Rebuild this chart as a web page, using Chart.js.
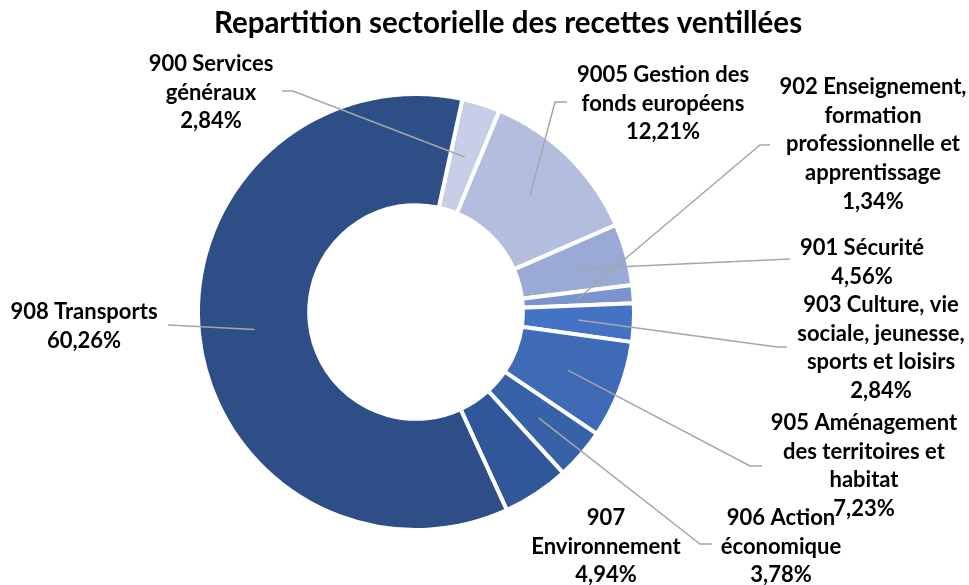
<!DOCTYPE html>
<html>
<head>
<meta charset="utf-8">
<script src="https://cdn.jsdelivr.net/npm/chart.js@4.4.0/dist/chart.umd.min.js"></script>
<style>
  html, body { margin: 0; padding: 0; background: #fff; }
</style>
</head>
<body>
<canvas id="recettesChart" width="969" height="585"></canvas>
<script>
// Titre et données du graphique
const titre = 'Repartition sectorielle des recettes ventillées';

const secteurs = [
  ['900 Services', 'généraux'],
  ['9005 Gestion des', 'fonds européens'],
  ['901 Sécurité'],
  ['902 Enseignement,', 'formation', 'professionnelle et', 'apprentissage'],
  ['903 Culture, vie', 'sociale, jeunesse,', 'sports et loisirs'],
  ['905 Aménagement', 'des territoires et', 'habitat'],
  ['906 Action', 'économique'],
  ['907', 'Environnement'],
  ['908 Transports']
];

const parts = [2.84, 12.21, 4.56, 1.34, 2.84, 7.23, 3.78, 4.94, 60.26];

const couleurs = ['#C9CEE8', '#B3BEDF', '#99AAD7', '#7B94D0', '#4472C4',
                  '#3E6AB6', '#3762A8', '#30579A', '#2E4E88'];

// Position des étiquettes (centre du texte) et fin des traits de rappel
const placement = [
  { x: 211, y: 64,  lx: 293, ly: 91,  dx: -11 },
  { x: 663, y: 75,  lx: 555, ly: 102, dx: 12 },
  { x: 862, y: 248, lx: 790, ly: 259, dx: 0 },
  { x: 873, y: 87,  lx: 760, ly: 145, dx: 10 },
  { x: 881, y: 305, lx: 777, ly: 347, dx: 10 },
  { x: 864, y: 423, lx: 750, ly: 466, dx: 12 },
  { x: 781, y: 518, lx: 700, ly: 544, dx: 12 },
  { x: 606, y: 518 },
  { x: 84,  y: 312, lx: 168, ly: 325, dx: 0 }
];

const pourcent = v => v.toFixed(2).replace('.', ',') + '%';

// Plugin maison : titre, traits de rappel et étiquettes
const etiquettes = {
  id: 'etiquettes',
  afterDatasetsDraw(chart) {
    const ctx = chart.ctx;
    const arcs = chart.getDatasetMeta(0).data;
    ctx.save();
    ctx.fillStyle = '#000';
    ctx.textAlign = 'center';
    ctx.textBaseline = 'middle';
    ctx.font = 'bold 29.5px Lato';
    ctx.fillText(titre, 508, 23);

    arcs.forEach((arc, i) => {
      const p = placement[i];
      if (p.lx !== undefined) {
        const m = arc.tooltipPosition();
        ctx.strokeStyle = '#A6A6A6';
        ctx.lineWidth = 1.5;
        ctx.beginPath();
        ctx.moveTo(m.x, m.y);
        ctx.lineTo(p.lx, p.ly);
        ctx.lineTo(p.lx + p.dx, p.ly);
        ctx.stroke();
      }
    });

    ctx.font = 'bold 22px Lato';
    arcs.forEach((arc, i) => {
      const p = placement[i];
      const lignes = secteurs[i].concat(pourcent(parts[i]));
      lignes.forEach((t, k) => ctx.fillText(t, p.x, p.y + k * 28.7));
    });
    ctx.restore();
  }
};

const ctx = document.getElementById('recettesChart').getContext('2d');

const recettesChart = new Chart(ctx, {
  type: 'doughnut',
  data: {
    labels: secteurs.map(s => s.join(' ')),
    datasets: [{
      data: parts,
      backgroundColor: couleurs,
      borderColor: '#fff',
      borderWidth: 4,
      borderJoinStyle: 'miter'
    }]
  },
  options: {
    responsive: false,
    animation: false,
    rotation: 12.3,
    cutout: '49%',
    layout: { padding: { left: 196, right: 333, top: 92, bottom: 53 } },
    plugins: {
      legend: { display: false },
      tooltip: { enabled: false },
      title: { display: false }
    }
  },
  plugins: [etiquettes]
});
</script>
</body>
</html>
